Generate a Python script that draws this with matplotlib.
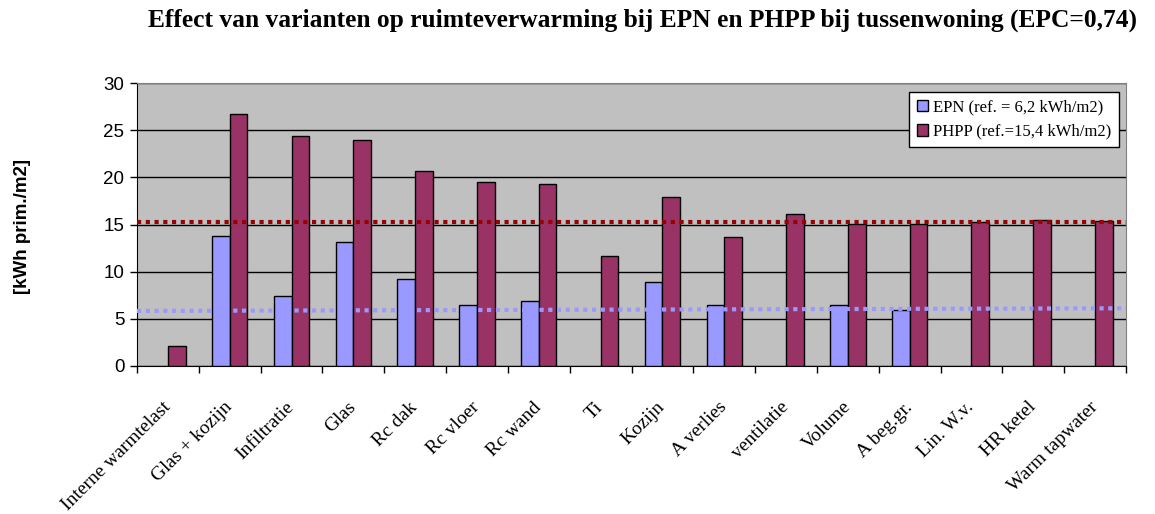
import numpy as np
import matplotlib
matplotlib.use("Agg")
import matplotlib.pyplot as plt

# categorieen en waarden
categorieen = ["Interne warmtelast", "Glas + kozijn", "Infiltratie", "Glas", "Rc dak",
               "Rc vloer", "Rc wand", "Ti", "Kozijn", "A verlies", "ventilatie",
               "Volume", "A beg.gr.", "Lin. W.v.", "HR ketel", "Warm tapwater"]
epn = [np.nan, 13.8, 7.4, 13.1, 9.2, 6.45, 6.9, np.nan, 8.9, 6.5, np.nan,
       6.4, 5.9, np.nan, np.nan, np.nan]
phpp = [2.1, 26.7, 24.4, 24.0, 20.7, 19.55, 19.3, 11.65, 17.95, 13.65, 16.1,
        15.1, 15.1, 15.25, 15.45, 15.35]
epn_ref_lijn = [5.82, 6.1]
phpp_ref_lijn = [15.3, 15.3]
y_ticks = [0, 5, 10, 15, 20, 25, 30]

serif = "Liberation Serif"
sans = "Liberation Sans"
kleur_epn = "#9999FF"
kleur_phpp = "#993366"

fig = plt.figure(figsize=(11.55, 5.14), dpi=100)
ax = fig.add_axes([137 / 1155, 1 - 365.7 / 514, 989 / 1155, (365.7 - 83.3) / 514])
ax.set_facecolor("#C0C0C0")

x = np.arange(len(categorieen))
b = 0.286
ax.bar(x - b / 2, epn, b, color=kleur_epn, edgecolor="black", linewidth=1, zorder=3,
       label="EPN (ref. = 6,2 kWh/m2)")
ax.bar(x + b / 2, phpp, b, color=kleur_phpp, edgecolor="black", linewidth=1, zorder=3,
       label="PHPP (ref.=15,4 kWh/m2)")

# referentielijnen (gestippeld)
xr = [-0.5, len(categorieen) - 0.5]
ax.plot(xr, phpp_ref_lijn, color="#990000", lw=3, linestyle=(0, (1, 1.1)),
        dash_capstyle="butt", zorder=4)
ax.plot(xr, epn_ref_lijn, color="#9999FF", lw=3, linestyle=(0, (1, 1.1)),
        dash_capstyle="butt", zorder=4)

ax.set_xlim(-0.5, len(categorieen) - 0.5)
ax.set_ylim(0, 30)
ax.set_yticks(y_ticks)
ax.yaxis.grid(True, color="black", linewidth=1)
ax.set_axisbelow(True)
ax.tick_params(axis="y", direction="out", length=5, width=1, labelsize=13.5, pad=4)
for t in ax.get_yticklabels():
    t.set_fontfamily(sans)

ax.set_xticks(x)
ax.set_xticks(np.arange(len(categorieen) + 1) - 0.5, minor=True)
ax.tick_params(axis="x", which="major", length=0, pad=28)
ax.tick_params(axis="x", which="minor", length=5, width=1, direction="out")
ax.set_xticklabels(categorieen, rotation=45, ha="right", va="center",
                   rotation_mode="anchor", fontsize=14, fontfamily=serif)

for s in ["top", "right"]:
    ax.spines[s].set_color("#808080")
for s in ["left", "bottom"]:
    ax.spines[s].set_color("black")

fig.text(23 / 1155, 1 - 227 / 514, "[kWh prim./m2]", rotation=90, ha="center", va="center",
         fontsize=13.5, fontweight="bold", fontfamily=sans)

leg = ax.legend(loc="upper right", bbox_to_anchor=(1119 / 1155, 1 - 91.7 / 514),
                bbox_transform=fig.transFigure, frameon=True, fancybox=False, framealpha=1,
                prop={"family": serif, "size": 12}, handlelength=0.7, handleheight=0.7,
                handletextpad=0.3, borderpad=0.45, labelspacing=0.5, borderaxespad=0)
leg.get_frame().set_edgecolor("black")
leg.get_frame().set_facecolor("white")
leg.get_frame().set_linewidth(1)

fig.text(642.5 / 1155, 1 - 27 / 514,
         "Effect van varianten op ruimteverwarming bij EPN en PHPP bij tussenwoning (EPC=0,74)",
         ha="center", va="baseline", fontsize=18.35, fontweight="bold", fontfamily=serif)

fig.savefig("out.png", dpi=100)
